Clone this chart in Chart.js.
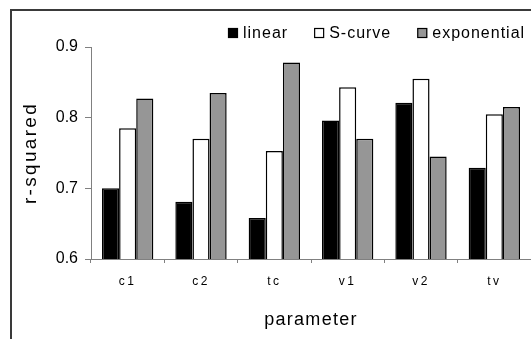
<!DOCTYPE html>
<html>
<head>
<meta charset="utf-8">
<script src="https://cdn.jsdelivr.net/npm/chart.js@4.4.1/dist/chart.umd.min.js"></script>
<style>
  html, body { margin: 0; padding: 0; background: #fff; overflow: hidden; }
  #cadre { position: absolute; left: 10px; top: 9px; width: 1000px; height: 1000px; border-top: 2px solid #3a3a3a; border-left: 2px solid #3a3a3a; }
  #chartRsq { position: absolute; left: 0; top: 0; }
</style>
</head>
<body>
<div id="cadre"></div>
<canvas id="chartRsq" width="531" height="339"></canvas>
<script>
// === DONNEES ===
const parametres = ['c1', 'c2', 'tc', 'v1', 'v2', 'tv'];
const rsqLinear = [0.700, 0.681, 0.658, 0.796, 0.821, 0.729];
const rsqSCurve = [0.785, 0.770, 0.753, 0.843, 0.855, 0.805];
const rsqExponential = [0.827, 0.835, 0.878, 0.770, 0.745, 0.815];
const yTicks = [0.6, 0.7, 0.8, 0.9];

const FONT = "'Liberation Sans', Arial, sans-serif";
const GRIS_AXE = '#808080';

// espacement des lettres (rendu Excel un peu large)
function avecEspacement(scale, methode, espacement) {
  if (scale['_patch_' + methode]) return;
  const original = scale[methode];
  scale[methode] = function (arg) {
    const ctx = this.ctx;
    ctx.save();
    ctx.letterSpacing = espacement;
    original.call(this, arg);
    ctx.restore();
  };
  scale['_patch_' + methode] = true;
}

const pluginEspacement = {
  id: 'espacement',
  beforeDraw(chart) {
    avecEspacement(chart.scales.x, 'drawLabels', '2.5px');
    avecEspacement(chart.scales.x, 'drawTitle', '1.3px');
    avecEspacement(chart.scales.y, 'drawTitle', '2.3px');
  }
};

// legende dessinee a la main en haut a droite
const pluginLegende = {
  id: 'legendeExcel',
  afterDraw(chart) {
    const ctx = chart.ctx;
    ctx.save();
    ctx.font = '16px ' + FONT;
    ctx.letterSpacing = '1px';
    ctx.textBaseline = 'middle';
    ctx.textAlign = 'left';
    let x = 228;
    chart.data.datasets.forEach(ds => {
      ctx.fillStyle = ds.backgroundColor;
      ctx.fillRect(x, 28, 10, 10);
      ctx.strokeStyle = '#000';
      ctx.lineWidth = 1.2;
      ctx.strokeRect(x + 0.5, 28.5, 9, 9);
      ctx.fillStyle = '#000';
      ctx.fillText(ds.label, x + 15, 34);
      x += 15 + ctx.measureText(ds.label).width + 26;
    });
    ctx.restore();
  }
};

function dataset(label, data, couleur) {
  return {
    label: label,
    data: data,
    backgroundColor: couleur,
    borderColor: '#000',
    borderWidth: 1.5,
    borderSkipped: false,
    categoryPercentage: 0.7,
    barPercentage: 1.0
  };
}

const ctx = document.getElementById('chartRsq').getContext('2d');
new Chart(ctx, {
  type: 'bar',
  data: {
    labels: parametres,
    datasets: [
      dataset('linear', rsqLinear, '#000000'),
      dataset('S-curve', rsqSCurve, '#ffffff'),
      dataset('exponential', rsqExponential, '#969696')
    ]
  },
  options: {
    responsive: false,
    animation: false,
    layout: { padding: { top: 47, left: 0, right: 0, bottom: 0 } },
    plugins: {
      legend: { display: false },
      tooltip: { enabled: false }
    },
    scales: {
      x: {
        grid: { drawOnChartArea: false, drawTicks: true, tickLength: 4, color: GRIS_AXE, offset: true },
        border: { display: true, color: GRIS_AXE, width: 1 },
        ticks: { color: '#000', font: { family: FONT, size: 12 }, padding: 11, maxRotation: 0 },
        title: { display: true, text: 'parameter', color: '#000', font: { family: FONT, size: 18 }, padding: { top: 0, bottom: 8 } },
        afterFit(scale) { scale.height = 80; }
      },
      y: {
        min: yTicks[0],
        max: yTicks[yTicks.length - 1],
        afterBuildTicks(scale) { scale.ticks = yTicks.map(v => ({ value: v })); },
        grid: { drawOnChartArea: false, drawTicks: true, tickLength: 6, color: GRIS_AXE },
        border: { display: true, color: GRIS_AXE, width: 1 },
        ticks: { color: '#000', font: { family: FONT, size: 16 }, padding: 7, callback: v => v.toFixed(1) },
        title: { display: true, text: 'r-squared', color: '#000', font: { family: FONT, size: 19 }, padding: { top: 19, bottom: 0 } },
        afterFit(scale) { scale.width = 91; }
      }
    }
  },
  plugins: [pluginEspacement, pluginLegende]
});
</script>
</body>
</html>
